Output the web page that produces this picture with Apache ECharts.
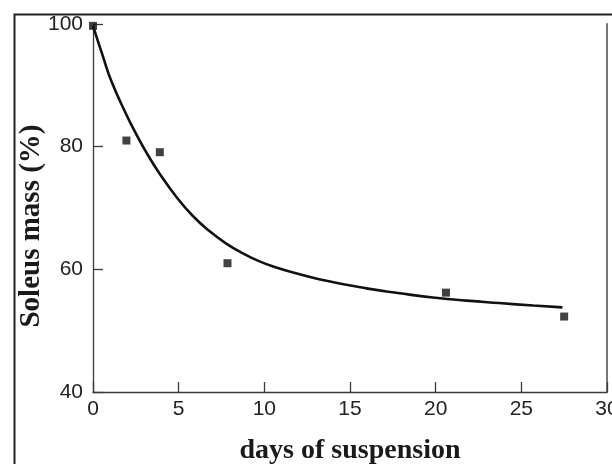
<!DOCTYPE html>
<html>
<head>
<meta charset="utf-8">
<script src="https://cdn.jsdelivr.net/npm/echarts@6/dist/echarts.min.js"></script>
<style>html,body{margin:0;padding:0;background:#fff;}#c{width:612px;height:464px;}</style>
</head>
<body>
<div id="c"></div>
<script>
// Measured data points (days, soleus mass %)
const pointDays = [0, 1.95, 3.9, 7.85, 20.6, 27.5];
const pointMass = [99.7, 81, 79.1, 61, 56.2, 52.3];
// Fitted curve
const curveDays = [0, 0.57, 1.07, 1.95, 2.53, 3.21, 3.89, 4.87, 5.83, 6.81, 7.78, 8.75, 9.72, 10.7, 11.67, 13.2, 15.95, 17.9, 19.84, 21.8, 23.7, 25.7, 27.4];
const curveMass = [99.7, 94.8, 90.7, 85.2, 82.0, 78.6, 75.6, 71.8, 68.7, 66.2, 64.2, 62.6, 61.3, 60.3, 59.5, 58.4, 56.9, 56.1, 55.4, 54.9, 54.5, 54.1, 53.8];
const xTicks = [0, 5, 10, 15, 20, 25, 30];
const yTicks = [40, 60, 80, 100];
const xTitle = 'days of suspension';
const yTitle = 'Soleus mass (%)';

const chart = echarts.init(document.getElementById('c'), null, {renderer: 'canvas'});
const axisColor = '#3a3a3a';
const labelFont = {color: '#222', fontFamily: '"Liberation Sans", Arial, sans-serif', fontSize: 21};
const titleFont = {color: '#1a1a1a', fontFamily: '"Liberation Serif", "Times New Roman", serif', fontSize: 28, fontWeight: 'bold'};

chart.setOption({
  animation: false,
  backgroundColor: '#fff',
  grid: {left: 93, right: 5, top: 24, bottom: 72, containLabel: false, outerBoundsMode: 'none'},
  xAxis: {
    type: 'value', min: xTicks[0], max: xTicks[xTicks.length - 1], interval: xTicks[1] - xTicks[0],
    axisLine: {show: true, lineStyle: {color: axisColor, width: 1.3}},
    axisTick: {show: true, inside: true, length: 10, lineStyle: {color: axisColor, width: 1.3}},
    axisLabel: Object.assign({margin: 7, showMaxLabel: true, showMinLabel: true, hideOverlap: false}, labelFont),
    splitLine: {show: false},
    name: xTitle, nameLocation: 'middle', nameGap: 45, nameMoveOverlap: false,
    nameTextStyle: titleFont
  },
  yAxis: [{
    type: 'value', min: yTicks[0], max: yTicks[yTicks.length - 1], interval: yTicks[1] - yTicks[0],
    axisLine: {show: true, lineStyle: {color: axisColor, width: 1.3}},
    axisTick: {show: true, inside: true, length: 10, lineStyle: {color: axisColor, width: 1.3}},
    axisLabel: Object.assign({margin: 10}, labelFont),
    splitLine: {show: false},
    name: yTitle, nameLocation: 'middle', nameGap: 47, nameRotate: 90, nameMoveOverlap: false,
    nameTextStyle: Object.assign({padding: [0, 36, 0, 0]}, titleFont, {fontSize: 29})
  }, {
    type: 'value', position: 'right', min: yTicks[0], max: yTicks[yTicks.length - 1],
    axisLine: {show: true, onZero: false, lineStyle: {color: '#777', width: 2}},
    axisTick: {show: false}, axisLabel: {show: false}, splitLine: {show: false}
  }],
  graphic: [{
    type: 'rect', left: 12, top: 12, shape: {x: 0, y: 0, width: 700, height: 560},
    style: {fill: 'none', stroke: '#222', lineWidth: 2}, silent: true
  }],
  series: [{
    type: 'line',
    data: curveDays.map((d, i) => [d, curveMass[i]]),
    smooth: 0.5,
    showSymbol: false,
    lineStyle: {color: '#111', width: 2.6},
    z: 2
  }, {
    type: 'scatter',
    data: pointDays.map((d, i) => [d, pointMass[i]]),
    symbol: 'rect', symbolSize: 8,
    itemStyle: {color: '#111'},
    clip: false,
    z: 3
  }]
});
</script>
</body>
</html>
